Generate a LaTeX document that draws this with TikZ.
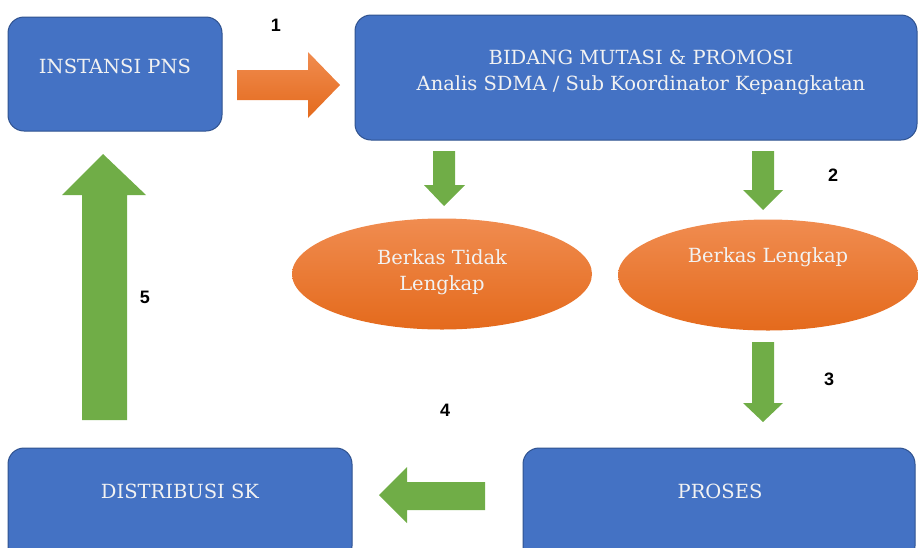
\documentclass[tikz,border=0pt]{standalone}
\usepackage{fontspec}
\setmainfont{DejaVu Serif}
\newfontfamily\numfont{Liberation Sans}
\usetikzlibrary{shapes.geometric}
\definecolor{boxblue}{HTML}{4472C4}
\definecolor{boxborder}{HTML}{2F528F}
\definecolor{arrgreen}{HTML}{70AD47}
\definecolor{orangetop}{HTML}{F08C50}
\definecolor{orangebot}{HTML}{E46A1C}
\definecolor{txtwhite}{HTML}{F2F2F2}
\tikzset{
  bluebox/.style={draw=boxborder, line width=1pt, fill=boxblue, rounded corners=16pt, inner sep=0pt},
  oval/.style={ellipse, top color=orangetop, bottom color=orangebot, draw=none, inner sep=0pt, minimum width=300pt, minimum height=111pt},
  boxtext/.style={text=txtwhite, font=\fontsize{19.5}{26}\selectfont, align=center, inner sep=0pt},
  numlabel/.style={font=\numfont\bfseries\fontsize{18}{20}\selectfont, text=black, inner sep=0pt},
  greenarrow/.style={fill=arrgreen},
  orangearrow/.style={top color=orangetop, bottom color=orangebot, draw=none}
}
\begin{document}
\begin{tikzpicture}[x=1pt,y=-1pt]
\useasboundingbox (0,0) rectangle (918,547);
\clip (0,0) rectangle (918,547);

% boxes
\node[bluebox, minimum width=214pt, minimum height=114pt] (instansi) at (115,74) {};
\node[bluebox, minimum width=562pt, minimum height=125pt] (bidang) at (636,77.5) {};
\node[bluebox, minimum width=344pt, minimum height=114pt] (distribusi) at (180,505) {};
\node[bluebox, minimum width=392pt, minimum height=114pt] (proses) at (719,505) {};

% ellipses
\node[oval] (tidak) at (442,274) {};
\node[oval] (lengkap) at (768,275) {};

% texts
\node[boxtext] (tInstansi) at (115,66) {INSTANSI PNS};
\node[boxtext] (tBidang) at (641,72) {BIDANG MUTASI \& PROMOSI\\Analis SDMA / Sub Koordinator Kepangkatan};
\node[boxtext] (tTidak) at (442,272) {Berkas Tidak\\Lengkap};
\node[boxtext] (tLengkap) at (768,257) {Berkas Lengkap};
\node[boxtext] (tProses) at (720,491) {PROSES};
\node[boxtext] (tDistribusi) at (180,491) {DISTRIBUSI SK};

% number labels
\node[numlabel] (n1) at (276,25) {1};
\node[numlabel] (n2) at (833,175) {2};
\node[numlabel] (n3) at (829,379) {3};
\node[numlabel] (n4) at (445,410) {4};
\node[numlabel] (n5) at (145,297) {5};

% arrow 1 (orange, right)
\path[orangearrow] (237,70) -- (308,70) -- (308,52) -- (340,85) -- (308,118) -- (308,100) -- (237,100) -- cycle;
% arrows down from bidang
\fill[greenarrow] (433,151) -- (455,151) -- (455,185) -- (465,185) -- (444,206) -- (424,185) -- (433,185) -- cycle;
\fill[greenarrow] (752,151) -- (774,151) -- (774,190) -- (783,190) -- (763,210) -- (743,190) -- (752,190) -- cycle;
% arrow 3
\fill[greenarrow] (752,342) -- (774,342) -- (774,403) -- (783,403) -- (763,422) -- (743,403) -- (752,403) -- cycle;
% arrow 4 (left)
\fill[greenarrow] (485,482) -- (485,510) -- (407,510) -- (407,523) -- (379,495) -- (407,467) -- (407,482) -- cycle;
% arrow 5 (up)
\fill[greenarrow] (82,420) -- (127,420) -- (127,195) -- (146,195) -- (103,154) -- (62,195) -- (82,195) -- cycle;
\end{tikzpicture}
\end{document}
